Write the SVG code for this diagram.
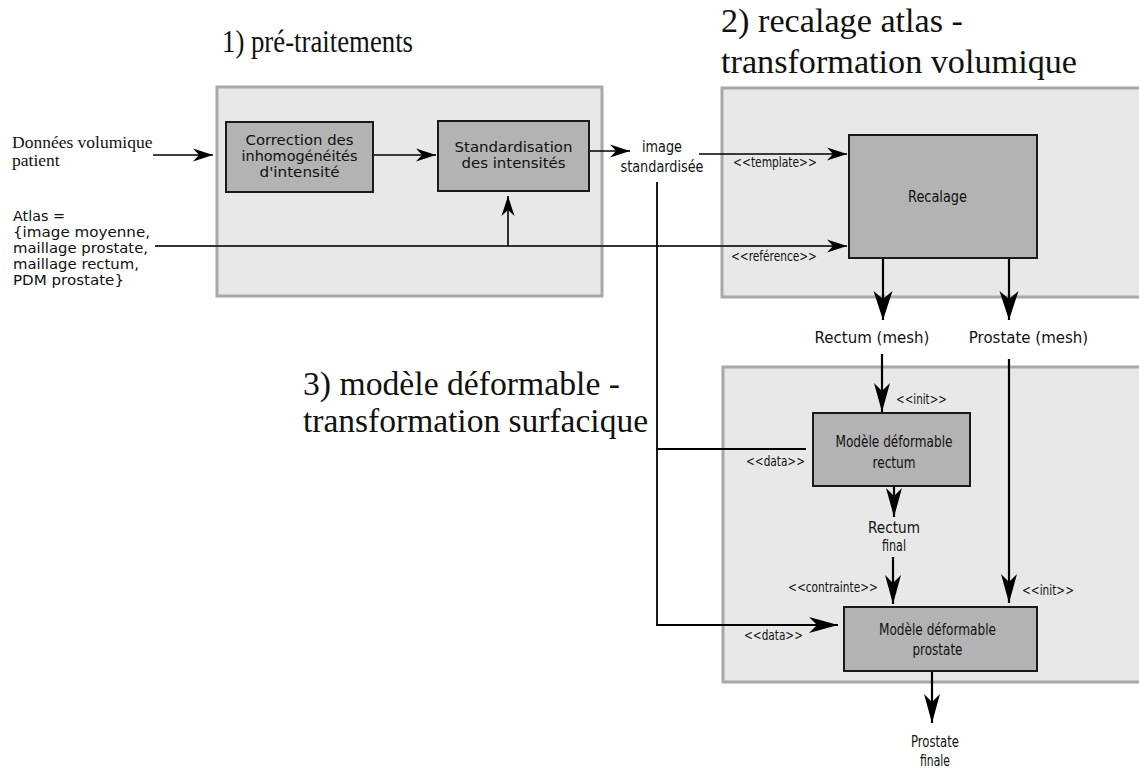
<svg xmlns="http://www.w3.org/2000/svg" width="1139" height="769" viewBox="0 0 1139 769">
<style>
.panel{fill:#e8e8e8;stroke:#a8a8a8;stroke-width:3}
.box{fill:#b3b3b3;stroke:#1a1a1a;stroke-width:2}
.title{font-family:"Liberation Serif",serif;font-size:34px;fill:#111}
.t{font-family:"DejaVu Sans",sans-serif;font-size:13.8px;fill:#111}
.m{font-family:"DejaVu Sans",sans-serif;font-size:15px;fill:#111}
.k{font-family:"DejaVu Sans",sans-serif;font-size:16px;fill:#111}
.c{text-anchor:middle}
.lbl{font-family:"DejaVu Sans",sans-serif;font-size:13.5px;fill:#111}
.serif{font-family:"Liberation Serif",serif;font-size:17.5px;fill:#111}
.ln{fill:none;stroke:#000;stroke-width:1.6}
.lnb{fill:none;stroke:#000;stroke-width:2.2}
</style>
<defs>
<marker id="as" markerUnits="userSpaceOnUse" markerWidth="24" markerHeight="16" refX="0" refY="0" viewBox="-21 -8 24 16" orient="auto" overflow="visible">
<path d="M0,0 L-20,-6.5 L-14,0 L-20,6.5 Z" fill="#000"/>
</marker>
<marker id="am" markerUnits="userSpaceOnUse" markerWidth="34" markerHeight="20" refX="0" refY="0" viewBox="-31 -10 34 20" orient="auto" overflow="visible">
<path d="M0,0 L-29,-8 L-21,0 L-29,8 Z" fill="#000"/>
</marker>
<marker id="al" markerUnits="userSpaceOnUse" markerWidth="34" markerHeight="22" refX="0" refY="0" viewBox="-31 -11 34 22" orient="auto" overflow="visible">
<path d="M0,0 L-29,-9.5 L-21,0 L-29,9.5 Z" fill="#000"/>
</marker>
</defs>

<g id="titles">
<text class="title" x="222" y="52" style="font-size:31px" textLength="191" lengthAdjust="spacingAndGlyphs">1) pré-traitements</text>
<text class="title" x="721" y="32" textLength="242" lengthAdjust="spacingAndGlyphs">2) recalage atlas -</text>
<text class="title" x="721" y="73" textLength="356" lengthAdjust="spacingAndGlyphs">transformation volumique</text>
<text class="title" x="303" y="395" textLength="317" lengthAdjust="spacingAndGlyphs">3) modèle déformable -</text>
<text class="title" x="303" y="432" textLength="345" lengthAdjust="spacingAndGlyphs">transformation surfacique</text>
</g>

<g id="panel-pretraitements"><rect class="panel" x="217" y="87" width="385" height="209"/></g>
<g id="panel-recalage"><rect class="panel" x="722" y="88" width="430" height="209"/></g>
<g id="panel-modele"><rect class="panel" x="723" y="367" width="430" height="315"/></g>

<g id="connectors">
<line class="ln" x1="153" y1="155" x2="213" y2="155" marker-end="url(#as)"/>
<line class="ln" x1="373" y1="155" x2="436" y2="155" marker-end="url(#as)"/>
<line class="ln" x1="589" y1="151" x2="630" y2="151" marker-end="url(#as)"/>
<line class="ln" x1="699" y1="154" x2="847" y2="154" marker-end="url(#as)"/>
<line class="ln" x1="155" y1="246" x2="847" y2="246" style="stroke:#333;stroke-width:1.8" marker-end="url(#as)"/>
<line class="ln" x1="508" y1="246" x2="508" y2="196" marker-end="url(#as)"/>
<polyline class="ln" points="657,182 657,625 838,625" style="stroke-width:1.8" marker-end="url(#am)"/>
<line class="ln" x1="657" y1="449" x2="806" y2="449" style="stroke-width:1.8"/>
<line class="lnb" x1="883" y1="258" x2="883" y2="320" marker-end="url(#al)"/>
<line class="lnb" x1="1009" y1="258" x2="1009" y2="320" marker-end="url(#al)"/>
<line class="lnb" x1="882" y1="354" x2="882" y2="412" marker-end="url(#am)"/>
<line class="lnb" x1="1009" y1="359" x2="1009" y2="603" marker-end="url(#am)"/>
<line class="lnb" x1="894" y1="486" x2="894" y2="517" marker-end="url(#am)"/>
<line class="lnb" x1="893" y1="557" x2="893" y2="604" marker-end="url(#am)"/>
<line class="lnb" x1="932" y1="671" x2="932" y2="723" marker-end="url(#am)"/>
</g>

<g id="labels">
<text class="lbl" x="733" y="167" textLength="84" lengthAdjust="spacingAndGlyphs">&lt;&lt;template&gt;&gt;</text>
<text class="lbl" x="731" y="261" textLength="86" lengthAdjust="spacingAndGlyphs">&lt;&lt;reférence&gt;&gt;</text>
<text class="lbl" x="896" y="404" textLength="51" lengthAdjust="spacingAndGlyphs">&lt;&lt;init&gt;&gt;</text>
<text class="lbl" x="746" y="466" textLength="59" lengthAdjust="spacingAndGlyphs">&lt;&lt;data&gt;&gt;</text>
<text class="lbl" x="788" y="592" textLength="90" lengthAdjust="spacingAndGlyphs">&lt;&lt;contrainte&gt;&gt;</text>
<text class="lbl" x="1022" y="595" textLength="52" lengthAdjust="spacingAndGlyphs">&lt;&lt;init&gt;&gt;</text>
<text class="lbl" x="744" y="640" textLength="59" lengthAdjust="spacingAndGlyphs">&lt;&lt;data&gt;&gt;</text>
</g>

<g id="input-donnees">
<text class="serif" x="12" y="148">Données volumique</text>
<text class="serif" x="12" y="166">patient</text>
</g>

<g id="input-atlas">
<text class="t" x="13" y="221" textLength="52" lengthAdjust="spacingAndGlyphs">Atlas =</text>
<text class="t" x="13" y="237" textLength="137" lengthAdjust="spacingAndGlyphs">{image moyenne,</text>
<text class="t" x="13" y="253" textLength="135" lengthAdjust="spacingAndGlyphs">maillage prostate,</text>
<text class="t" x="13" y="269" textLength="126" lengthAdjust="spacingAndGlyphs">maillage rectum,</text>
<text class="t" x="13" y="285" textLength="111" lengthAdjust="spacingAndGlyphs">PDM prostate}</text>
</g>

<g id="node-correction">
<rect class="box" x="226" y="122" width="147" height="70"/>
<text class="t c" x="299.5" y="145" textLength="108" lengthAdjust="spacingAndGlyphs">Correction des</text>
<text class="t c" x="299.5" y="161" textLength="116" lengthAdjust="spacingAndGlyphs">inhomogénéités</text>
<text class="t c" x="299.5" y="177" textLength="80" lengthAdjust="spacingAndGlyphs">d'intensité</text>
</g>

<g id="node-standardisation">
<rect class="box" x="438" y="121" width="151" height="70"/>
<text class="t c" x="513.5" y="152" textLength="118" lengthAdjust="spacingAndGlyphs">Standardisation</text>
<text class="t c" x="513.5" y="168" textLength="104" lengthAdjust="spacingAndGlyphs">des intensités</text>
</g>

<g id="node-image-standardisee">
<text class="k c" x="662" y="152" textLength="40" lengthAdjust="spacingAndGlyphs">image</text>
<text class="k c" x="662" y="172" textLength="83" lengthAdjust="spacingAndGlyphs">standardisée</text>
</g>

<g id="node-recalage">
<rect class="box" x="849" y="135" width="188" height="123"/>
<text class="k c" x="937.5" y="202" textLength="59" lengthAdjust="spacingAndGlyphs">Recalage</text>
</g>

<g id="node-rectum-mesh"><text class="m c" x="872" y="343">Rectum (mesh)</text></g>
<g id="node-prostate-mesh"><text class="m c" x="1028.5" y="343">Prostate (mesh)</text></g>

<g id="node-modele-rectum">
<rect class="box" x="813" y="413" width="157" height="73"/>
<text class="k c" x="894" y="447" textLength="117" lengthAdjust="spacingAndGlyphs">Modèle déformable</text>
<text class="k c" x="894" y="468" textLength="43" lengthAdjust="spacingAndGlyphs">rectum</text>
</g>

<g id="node-rectum-final">
<text class="m c" x="894" y="533" textLength="52" lengthAdjust="spacingAndGlyphs">Rectum</text>
<text class="m c" x="894" y="551" textLength="24" lengthAdjust="spacingAndGlyphs">final</text>
</g>

<g id="node-modele-prostate">
<rect class="box" x="844" y="607" width="193" height="64"/>
<text class="k c" x="937.5" y="635" textLength="117" lengthAdjust="spacingAndGlyphs">Modèle déformable</text>
<text class="k c" x="937.5" y="655" textLength="50" lengthAdjust="spacingAndGlyphs">prostate</text>
</g>

<g id="node-prostate-finale">
<text class="k c" x="935" y="747" textLength="48" lengthAdjust="spacingAndGlyphs">Prostate</text>
<text class="k c" x="935" y="766" textLength="30" lengthAdjust="spacingAndGlyphs">finale</text>
</g>
</svg>
